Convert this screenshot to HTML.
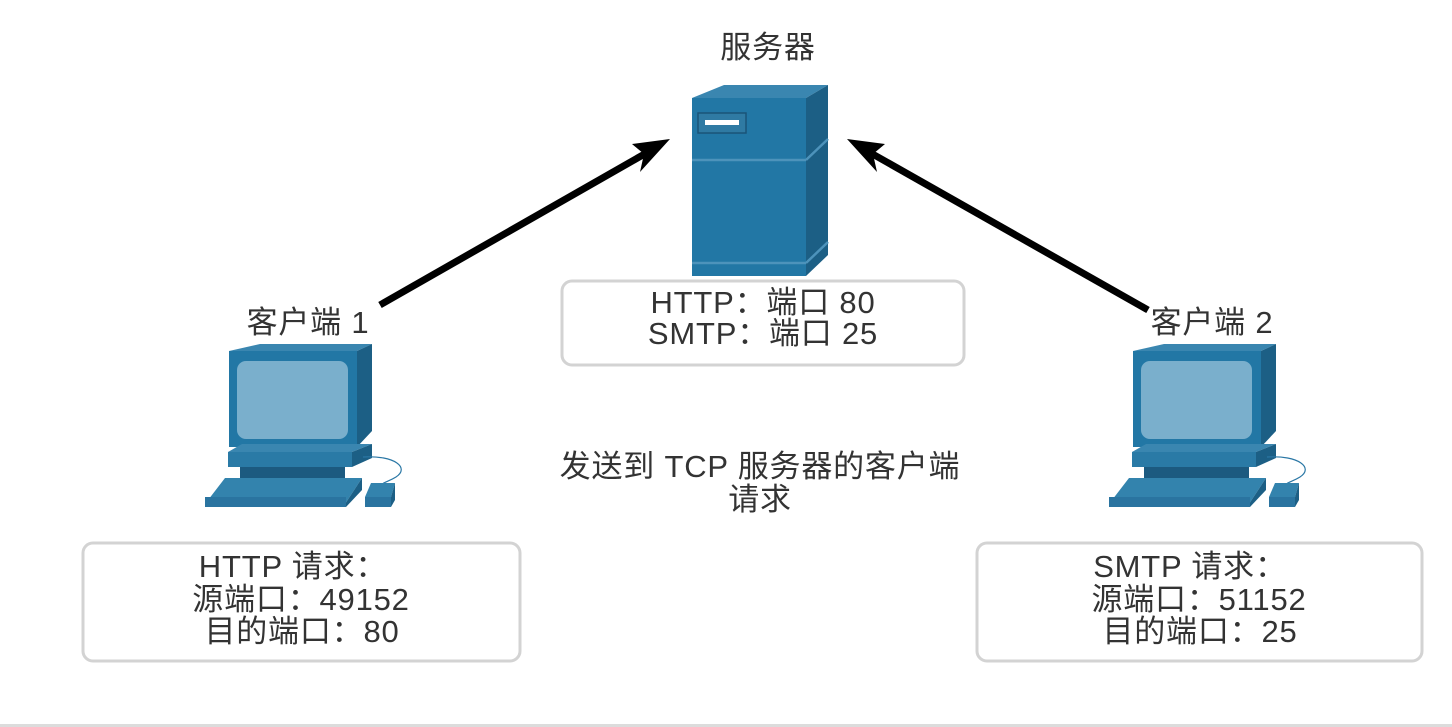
<!DOCTYPE html>
<html><head><meta charset="utf-8"><style>
html,body{margin:0;padding:0;background:#fff;}
svg{display:block;}
text{font-family:"Liberation Sans","Noto Sans CJK SC",sans-serif;fill:#333;font-size:31px;letter-spacing:0.8px;}
</style></head><body>
<svg width="1452" height="727" viewBox="0 0 1452 727" xmlns="http://www.w3.org/2000/svg">
<defs>
<g id="pc">
  <polygon points="229,351 260,344 372,344 357,351" fill="#3a86b0"/>
  <polygon points="357,351 372,344 372,431 357,447" fill="#1c5f85"/>
  <rect x="229" y="351" width="128" height="96" fill="#2277a5"/>
  <rect x="237" y="361" width="111" height="78" rx="9" fill="#7aafcc"/>
  <polygon points="240,447 357,447 349,452 243,452" fill="#1f6b96"/>
  <polygon points="228,452 242,444 372,444 352,452" fill="#3a86b0"/>
  <rect x="228" y="452" width="124" height="15" fill="#2a7aa6"/>
  <polygon points="352,452 372,444 372,458 352,467" fill="#1c5f85"/>
  <rect x="240" y="467" width="105" height="11" fill="#1c5a80"/>
  <polygon points="205,504 225,478 362,478 345,504" fill="#3383ad"/>
  <polygon points="345,504 362,478 362,490 346,507" fill="#1c5f85"/>
  <rect x="205" y="497" width="141" height="10" fill="#2a74a0"/>
  <path d="M363,457 C395,455 410,468 396,477 C388,482 383,482 382,485" fill="none" stroke="#2a77a5" stroke-width="1.2"/>
  <polygon points="365,497 371,483 395,483 391,497" fill="#3383ad"/>
  <polygon points="391,497 395,483 395,500 391,507" fill="#1c5f85"/>
  <rect x="365" y="497" width="26" height="10" fill="#2a74a0"/>
</g>
</defs>

<text x="768" y="58" text-anchor="middle">服务器</text>

<polygon points="692,98 724,85 828,85 806,98" fill="#3a86b0"/>
<polygon points="806,98 828,85 828,255 806,276" fill="#1c5f85"/>
<rect x="692" y="98" width="114" height="178" fill="#2277a5"/>
<line x1="692" y1="160" x2="806" y2="160" stroke="#4d93bb" stroke-width="2.5"/>
<line x1="806" y1="160" x2="828" y2="139" stroke="#4d93bb" stroke-width="2.5"/>
<line x1="692" y1="263" x2="806" y2="263" stroke="#4d93bb" stroke-width="2.5"/>
<line x1="806" y1="263" x2="828" y2="242" stroke="#4d93bb" stroke-width="2.5"/>
<rect x="698" y="113" width="48" height="20" fill="#2f7aa3" stroke="#1a5478" stroke-width="1.5"/>
<rect x="705" y="120" width="34" height="5" fill="#fff"/>

<line x1="380" y1="305" x2="648" y2="152" stroke="#000" stroke-width="7"/>
<polygon points="670,139 632,144 644,154 640,172" fill="#000"/>
<line x1="1148" y1="310" x2="869" y2="152" stroke="#000" stroke-width="7"/>
<polygon points="847,139 885,144 873,154 877,172" fill="#000"/>

<text x="308" y="333" text-anchor="middle">客户端 1</text>
<text x="1212" y="333" text-anchor="middle">客户端 2</text>

<use href="#pc"/>
<use href="#pc" transform="translate(904,0)"/>

<rect x="562" y="281" width="402" height="84" rx="10" fill="#fff" stroke="#d3d3d3" stroke-width="3"/>
<text x="763" y="313" text-anchor="middle">HTTP：端口 80</text>
<text x="763" y="344" text-anchor="middle">SMTP：端口 25</text>

<text x="760" y="477" text-anchor="middle">发送到 TCP 服务器的客户端</text>
<text x="760" y="510" text-anchor="middle">请求</text>

<rect x="83" y="543" width="437" height="118" rx="10" fill="#fff" stroke="#d3d3d3" stroke-width="3"/>
<text x="293" y="577" text-anchor="middle">HTTP 请求：</text>
<text x="301" y="610" text-anchor="middle">源端口：49152</text>
<text x="302" y="642" text-anchor="middle">目的端口：80</text>

<rect x="977" y="543" width="445" height="118" rx="10" fill="#fff" stroke="#d3d3d3" stroke-width="3"/>
<text x="1190" y="577" text-anchor="middle">SMTP 请求：</text>
<text x="1199" y="610" text-anchor="middle">源端口：51152</text>
<text x="1200" y="642" text-anchor="middle">目的端口：25</text>

<rect x="0" y="724" width="1452" height="3" fill="#dcdcdc"/>
</svg>
</body></html>
